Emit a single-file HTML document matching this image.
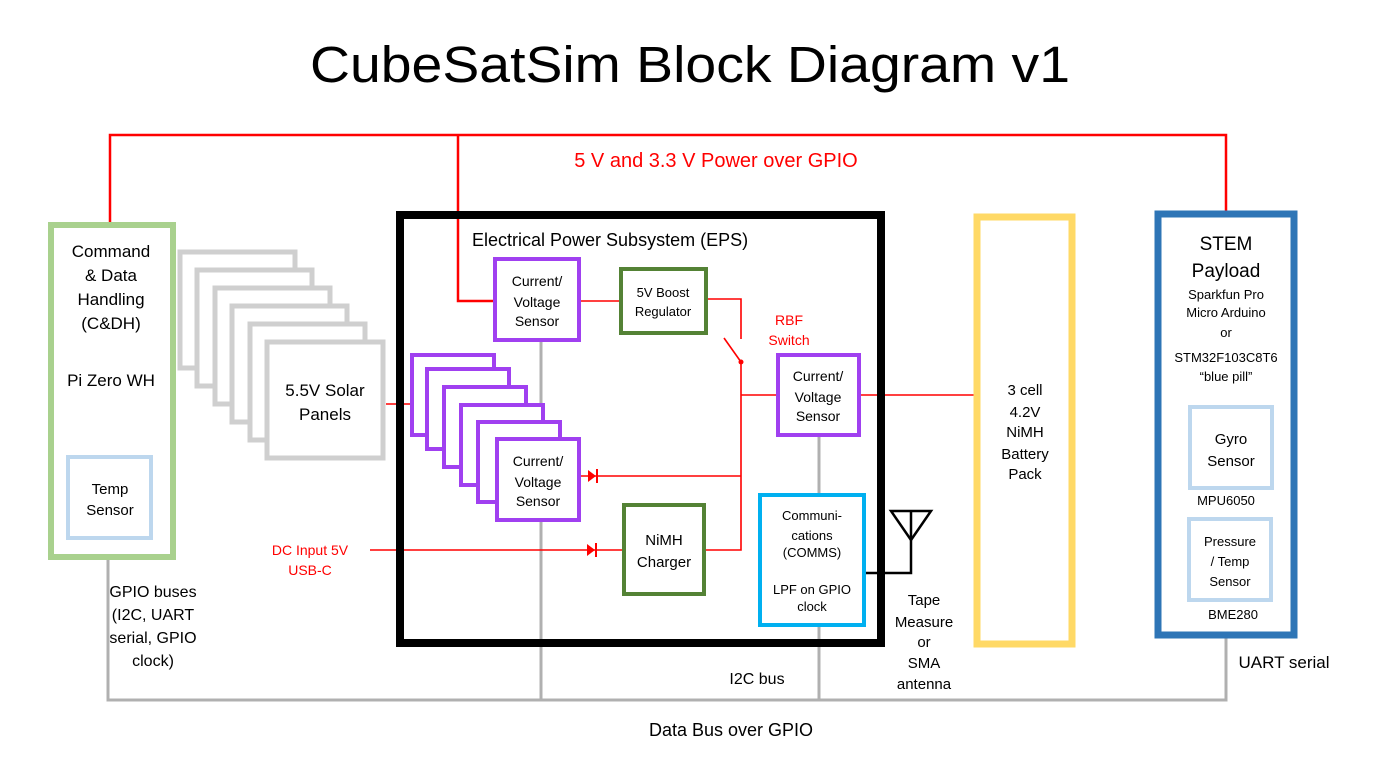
<!DOCTYPE html>
<html><head><meta charset="utf-8"><style>
body{margin:0;background:#fff}
svg text{font-family:"Liberation Sans",sans-serif;}
</style></head><body>
<svg width="1400" height="760" viewBox="0 0 1400 760" xmlns="http://www.w3.org/2000/svg">
<rect width="1400" height="760" fill="#fff"/>
<text x="310" y="82" font-size="51" textLength="760" lengthAdjust="spacingAndGlyphs" fill="#000">CubeSatSim Block Diagram v1</text>
<!-- gray bus -->
<g stroke="#b0b0b0" stroke-width="3" fill="none">
<polyline points="108,560 108,700 1226,700 1226,638"/>
<line x1="541" y1="342" x2="541" y2="700"/>
<line x1="819" y1="437" x2="819" y2="493"/>
<line x1="819" y1="627" x2="819" y2="700"/>
</g>
<!-- red power -->
<g stroke="#ff0000" stroke-width="2.5" fill="none">
<polyline points="110,222 110,135 1226,135 1226,211"/>
<polyline points="458,135 458,301 495,301"/>
</g>
<g stroke="#ff0000" stroke-width="1.6" fill="none">
<line x1="581" y1="301" x2="619" y2="301"/>
<polyline points="707,299 741,299 741,339"/>
<line x1="741" y1="362" x2="724" y2="338"/>
<polyline points="741,362 741,550 705,550"/>
<line x1="741" y1="395" x2="776" y2="395"/>
<line x1="861" y1="395" x2="974" y2="395"/>
<line x1="580" y1="476" x2="741" y2="476"/>
<line x1="370" y1="550" x2="622" y2="550"/>
<line x1="386" y1="404" x2="412" y2="404"/>
</g>
<circle cx="741" cy="362" r="2.5" fill="#f00"/>
<polygon points="588,470 588,482 596,476" fill="#f00"/><line x1="597" y1="469" x2="597" y2="483" stroke="#f00" stroke-width="2"/>
<polygon points="587,544 587,556 595,550" fill="#f00"/><line x1="596" y1="543" x2="596" y2="557" stroke="#f00" stroke-width="2"/>
<text x="716" y="167" font-size="20" text-anchor="middle" fill="#f00">5 V and 3.3 V Power over GPIO</text>
<text x="789" y="325" font-size="14" text-anchor="middle" fill="#f00">RBF</text>
<text x="789" y="345" font-size="14" text-anchor="middle" fill="#f00">Switch</text>
<text x="310" y="555" font-size="14" text-anchor="middle" fill="#f00">DC Input 5V</text>
<text x="310" y="575" font-size="14" text-anchor="middle" fill="#f00">USB-C</text>
<!-- C&DH -->
<rect x="51" y="225" width="122" height="332" fill="#fff" stroke="#a9d18e" stroke-width="6"/>
<g font-size="17" text-anchor="middle" fill="#000">
<text x="111" y="257">Command</text><text x="111" y="281">&amp; Data</text><text x="111" y="305">Handling</text><text x="111" y="329">(C&amp;DH)</text><text x="111" y="386">Pi Zero WH</text>
</g>
<rect x="68" y="457" width="83" height="81" fill="#fff" stroke="#bdd7ee" stroke-width="4"/>
<text x="110" y="494" font-size="15" text-anchor="middle">Temp</text><text x="110" y="515" font-size="15" text-anchor="middle">Sensor</text>
<g font-size="16" text-anchor="middle"><text x="153" y="597">GPIO buses</text><text x="153" y="620">(I2C, UART</text><text x="153" y="643">serial, GPIO</text><text x="153" y="666">clock)</text></g>
<!-- solar -->
<g fill="#fff" stroke="#cfcfcf" stroke-width="5">
<rect x="180" y="252" width="115" height="116"/>
<rect x="197" y="270" width="115" height="116"/>
<rect x="215" y="288" width="115" height="116"/>
<rect x="232" y="306" width="115" height="116"/>
<rect x="250" y="324" width="115" height="116"/>
<rect x="267" y="342" width="116" height="116"/>
</g>
<text x="325" y="396" font-size="17" text-anchor="middle">5.5V Solar</text><text x="325" y="420" font-size="17" text-anchor="middle">Panels</text>
<!-- EPS -->
<rect x="400" y="215" width="481" height="428" fill="none" stroke="#000" stroke-width="8"/>
<text x="472" y="246" font-size="18">Electrical Power Subsystem (EPS)</text>
<g fill="#fff" stroke="#a040f0" stroke-width="4">
<rect x="495" y="259" width="84" height="81"/>
<rect x="412" y="355" width="82" height="80"/>
<rect x="427" y="369" width="82" height="80"/>
<rect x="444" y="387" width="82" height="80"/>
<rect x="461" y="405" width="82" height="80"/>
<rect x="478" y="422" width="82" height="80"/>
<rect x="497" y="439" width="82" height="81"/>
<rect x="778" y="355" width="81" height="80"/>
</g>
<g font-size="14" text-anchor="middle">
<text x="537" y="286">Current/</text><text x="537" y="307">Voltage</text><text x="537" y="326">Sensor</text>
<text x="538" y="466">Current/</text><text x="538" y="487">Voltage</text><text x="538" y="506">Sensor</text>
<text x="818" y="381">Current/</text><text x="818" y="402">Voltage</text><text x="818" y="421">Sensor</text>
</g>
<rect x="621" y="269" width="85" height="64" fill="#fff" stroke="#548235" stroke-width="4"/>
<text x="663" y="297" font-size="13" text-anchor="middle">5V Boost</text><text x="663" y="316" font-size="13" text-anchor="middle">Regulator</text>
<rect x="624" y="505" width="80" height="89" fill="#fff" stroke="#548235" stroke-width="4"/>
<text x="664" y="545" font-size="15" text-anchor="middle">NiMH</text><text x="664" y="567" font-size="15" text-anchor="middle">Charger</text>
<rect x="760" y="495" width="104" height="130" fill="#fff" stroke="#00b0f0" stroke-width="4"/>
<g font-size="13" text-anchor="middle"><text x="812" y="520">Communi-</text><text x="812" y="540">cations</text><text x="812" y="557">(COMMS)</text><text x="812" y="594">LPF on GPIO</text><text x="812" y="611">clock</text></g>
<!-- antenna -->
<g stroke="#000" stroke-width="2.5" fill="none">
<polyline points="866,573 911,573 911,512"/>
<polygon points="891,511 931,511 911,540"/>
</g>
<g font-size="15" text-anchor="middle"><text x="924" y="605">Tape</text><text x="924" y="627">Measure</text><text x="924" y="647">or</text><text x="924" y="668">SMA</text><text x="924" y="689">antenna</text></g>
<text x="757" y="684" font-size="16" text-anchor="middle">I2C bus</text>
<text x="731" y="736" font-size="18" text-anchor="middle">Data Bus over GPIO</text>
<!-- battery -->
<rect x="977" y="217" width="95" height="427" fill="#fff" stroke="#ffd966" stroke-width="7"/>
<g font-size="15" text-anchor="middle"><text x="1025" y="395">3 cell</text><text x="1025" y="417">4.2V</text><text x="1025" y="437">NiMH</text><text x="1025" y="459">Battery</text><text x="1025" y="479">Pack</text></g>
<!-- STEM -->
<rect x="1158" y="214" width="136" height="421" fill="#fff" stroke="#2e75b6" stroke-width="7"/>
<g text-anchor="middle"><text x="1226" y="250" font-size="19">STEM</text><text x="1226" y="277" font-size="19">Payload</text>
<text x="1226" y="299" font-size="13">Sparkfun Pro</text><text x="1226" y="317" font-size="13">Micro Arduino</text><text x="1226" y="337" font-size="13">or</text><text x="1226" y="362" font-size="13">STM32F103C8T6</text><text x="1226" y="381" font-size="13">“blue pill”</text></g>
<rect x="1190" y="407" width="82" height="81" fill="#fff" stroke="#bdd7ee" stroke-width="4"/>
<text x="1231" y="444" font-size="15" text-anchor="middle">Gyro</text><text x="1231" y="466" font-size="15" text-anchor="middle">Sensor</text>
<text x="1226" y="505" font-size="13" text-anchor="middle">MPU6050</text>
<rect x="1189" y="519" width="82" height="81" fill="#fff" stroke="#bdd7ee" stroke-width="4"/>
<g font-size="13" text-anchor="middle"><text x="1230" y="546">Pressure</text><text x="1230" y="566">/ Temp</text><text x="1230" y="586">Sensor</text><text x="1233" y="619">BME280</text></g>
<text x="1284" y="668" font-size="17" text-anchor="middle">UART serial</text>
</svg>
</body></html>
